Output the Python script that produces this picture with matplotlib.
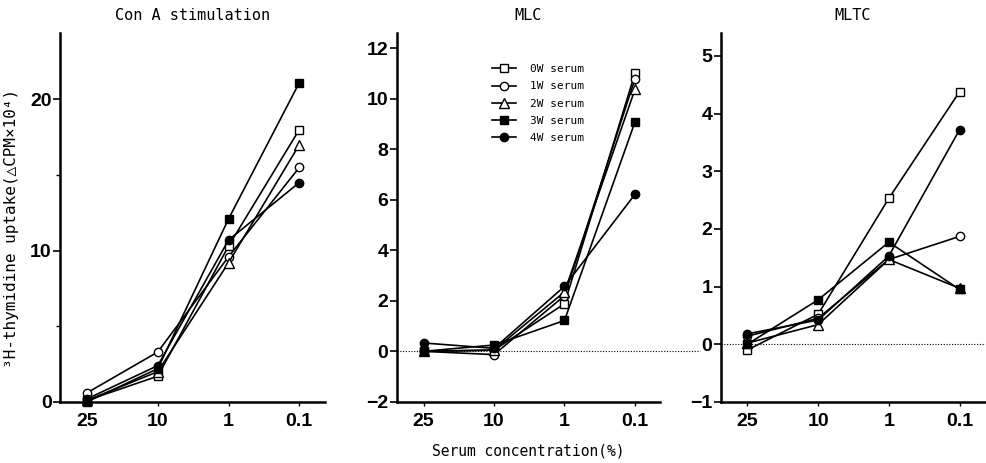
import matplotlib
matplotlib.use("Agg")
import matplotlib.pyplot as plt
from matplotlib.ticker import MultipleLocator

# ---------------------------------------------------------------------------
# Data
# ---------------------------------------------------------------------------
conc_labels = ["25", "10", "1", "0.1"]
series_labels = ["0W serum", "1W serum", "2W serum", "3W serum", "4W serum"]

# Con A stimulation
cona_0w = [0.1, 1.7, 10.3, 18.0]
cona_1w = [0.6, 3.3, 9.6, 15.5]
cona_2w = [0.1, 2.0, 9.2, 17.0]
cona_3w = [0.0, 2.2, 12.1, 21.1]
cona_4w = [0.2, 2.4, 10.7, 14.5]

# MLC
mlc_0w = [0.0, 0.05, 1.88, 11.0]
mlc_1w = [0.0, -0.13, 2.2, 10.78]
mlc_2w = [0.0, 0.05, 2.35, 10.36]
mlc_3w = [0.0, 0.25, 1.22, 9.07]
mlc_4w = [0.33, 0.12, 2.57, 6.21]

# MLTC
mltc_0w = [-0.1, 0.52, 2.53, 4.38]
mltc_1w = [0.14, 0.45, 1.47, 1.87]
mltc_2w = [0.02, 0.34, 1.47, 0.97]
mltc_3w = [0.0, 0.77, 1.77, 0.95]
mltc_4w = [0.18, 0.42, 1.53, 3.72]

# marker, facecolor for each series
STYLES = [("s", "white"), ("o", "white"), ("^", "white"), ("s", "black"), ("o", "black")]

MONO = ["DejaVu Sans Mono", "DejaVu Sans"]
TICKFONT = ["Liberation Sans", "DejaVu Sans"]

fig = plt.figure(figsize=(9.87, 4.63), dpi=100)


def make_panel(rect, title, series, ylim, major, minor=None, zero_line=False, zero_ext=1.0):
    ax = fig.add_axes(rect)
    x = list(range(len(conc_labels)))
    for vals, (mk, fc), lab in zip(series, STYLES, series_labels):
        ax.plot(x, vals, color="black", lw=1.2, marker=mk, ms=6 if mk != "^" else 7,
                mfc=fc, mec="black", mew=1.0, label=lab, clip_on=False, zorder=3)
    if zero_line:
        # dotted baseline at zero
        ax.axhline(0, xmin=0, xmax=zero_ext, color="black", lw=0.8, ls=(0, (1, 1.5)),
                   clip_on=False, zorder=1)
    ax.set_xlim(-0.38, 3.36)
    ax.set_ylim(*ylim)
    ax.set_xticks(x)
    ax.set_xticklabels(conc_labels)
    ax.yaxis.set_major_locator(MultipleLocator(major))
    if minor:
        ax.yaxis.set_minor_locator(MultipleLocator(minor))
    for s in ("top", "right"):
        ax.spines[s].set_visible(False)
    for s in ("left", "bottom"):
        ax.spines[s].set_linewidth(1.8)
    ax.tick_params(axis="y", which="major", direction="out", length=5, width=1.2, pad=1)
    ax.tick_params(axis="y", which="minor", direction="out", length=3, width=1.0)
    ax.tick_params(axis="x", direction="out", length=3, width=1.0, pad=5)
    for t in ax.get_xticklabels() + ax.get_yticklabels():
        t.set_fontfamily(TICKFONT)
        t.set_fontsize(14)
        t.set_fontweight("bold")
    ax.set_title(title, family=MONO, fontsize=11, pad=9)
    return ax


ax1 = make_panel([0.061, 0.132, 0.268, 0.797], "Con A stimulation",
                 [cona_0w, cona_1w, cona_2w, cona_3w, cona_4w],
                 (0, 24.4), 10, minor=5)
ax2 = make_panel([0.402, 0.132, 0.267, 0.797], "MLC",
                 [mlc_0w, mlc_1w, mlc_2w, mlc_3w, mlc_4w],
                 (-2, 12.6), 2, zero_line=True, zero_ext=1.15)
ax3 = make_panel([0.730, 0.132, 0.268, 0.797], "MLTC",
                 [mltc_0w, mltc_1w, mltc_2w, mltc_3w, mltc_4w],
                 (-1, 5.4), 1, zero_line=True)

ax1.set_ylabel("³H-thymidine uptake(△CPM×10⁴)", family=MONO, fontsize=11.5)
ax1.yaxis.set_label_coords(-0.155, 0.47)

leg = ax2.legend(loc="upper left", bbox_to_anchor=(0.34, 0.93), frameon=False,
                 prop={"family": MONO, "size": 8}, handlelength=2.2,
                 handletextpad=1.2, labelspacing=0.65, borderpad=0)

fig.text(0.535, 0.025, "Serum concentration(%)", family=MONO, fontsize=10.5,
         ha="center", va="center")

fig.savefig("out.png", dpi=100)
